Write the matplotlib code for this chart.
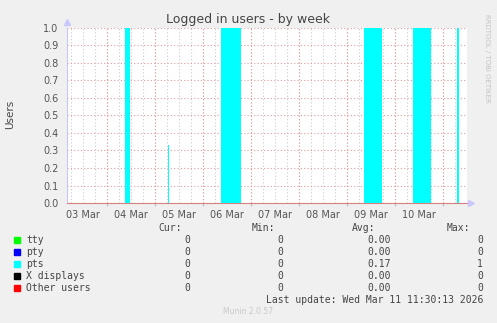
import matplotlib
matplotlib.use("Agg")
import matplotlib.pyplot as plt
import matplotlib.dates as mdates
import matplotlib.ticker as mticker
import pandas as pd

# pts sessions (start, end, users)
pts_start = ["2026-03-04 09:00", "2026-03-05 06:15", "2026-03-06 09:00",
             "2026-03-09 08:30", "2026-03-10 09:00", "2026-03-11 06:50"]
pts_end = ["2026-03-04 11:20", "2026-03-05 07:00", "2026-03-06 19:10",
           "2026-03-09 17:30", "2026-03-10 18:00", "2026-03-11 07:50"]
pts_value = [1.0, 0.33, 1.0, 1.0, 1.0, 1.0]

x_start = "2026-03-03 04:00"
x_end = "2026-03-11 11:50"

# legend table
labels = ["tty", "pty", "pts", "X displays", "Other users"]
colors = ["#00ff00", "#0000ff", "#00ffff", "#000000", "#ff0000"]
cur = [0, 0, 0, 0, 0]
mins = [0, 0, 0, 0, 0]
avgs = [0.00, 0.00, 0.17, 0.00, 0.00]
maxs = [0, 0, 1, 0, 0]

W, H = 497, 323
fig = plt.figure(figsize=(W / 100, H / 100), dpi=100, facecolor="#f0f0f0")
ax = fig.add_axes([67 / W, (H - 203) / H, 400 / W, 175 / H])
ax.set_facecolor("white")

starts = pd.to_datetime(pts_start).to_pydatetime()
ends = pd.to_datetime(pts_end).to_pydatetime()
for s, e, v in zip(starts, ends, pts_value):
    ax.fill_between([s, e], [v, v], 0, color="#00ffff", linewidth=0, zorder=3)

ax.set_xlim(pd.Timestamp(x_start).to_pydatetime(), pd.Timestamp(x_end).to_pydatetime())
ax.set_ylim(0, 1)

# grid
dot = (0, (1, 2))
ax.yaxis.set_major_locator(mticker.MultipleLocator(0.1))
ax.yaxis.set_major_formatter(mticker.FormatStrFormatter("%.1f"))
ax.grid(axis="y", color="#e39c9c", linestyle=dot, linewidth=0.8, zorder=4)
ax.xaxis.set_major_locator(mdates.HourLocator(byhour=12))
ax.xaxis.set_major_formatter(mdates.DateFormatter("%d %b"))
ax.xaxis.set_minor_locator(mdates.HourLocator(byhour=[0, 6, 18]))
ax.grid(axis="x", which="both", color="#cccccc", linestyle=dot, linewidth=0.8, zorder=4)
midnights = pd.date_range("2026-03-04", "2026-03-11", freq="D").to_pydatetime()
ax.vlines(midnights, 0, 1, colors="#e39c9c", linestyles=dot, linewidth=0.8, zorder=4)
ax.vlines(midnights, -0.015, 0, colors="#bbbbbb", linewidth=0.8, clip_on=False)
ax.set_axisbelow(False)

for sp in ["top", "right"]:
    ax.spines[sp].set_visible(False)
ax.spines["left"].set_color("#c8c8f0")
ax.spines["bottom"].set_color("#d98080")
ax.spines["left"].set_zorder(5)
ax.spines["bottom"].set_zorder(5)
ax.tick_params(axis="both", which="both", length=0, labelsize=7, colors="#555555")
ax.tick_params(axis="x", pad=5)
ax.tick_params(axis="y", pad=6)

# axis arrows
ax.plot([0], [1.035], marker="^", color="#c8c8ff", markersize=5,
        transform=ax.transAxes, clip_on=False)
ax.plot([1.01], [0], marker=">", color="#c8c8ff", markersize=5,
        transform=ax.transAxes, clip_on=False)

fig.text(248 / W, 1 - 19 / H, "Logged in users - by week", ha="center", va="center",
         fontsize=9, color="#444444")
fig.text(10 / W, 1 - 114 / H, "Users", rotation=90, ha="center", va="center",
         fontsize=7.5, color="#444444")
fig.text(487 / W, 1 - 58 / H, "RRDTOOL / TOBI OETIKER", rotation=270, ha="center",
         va="center", fontsize=5, color="#c4c4c4")

mono = "DejaVu Sans Mono"
txt = "#444444"
def put(x, y, s, ha="left", color=txt, size=7):
    fig.text(x / W, 1 - y / H, s, ha=ha, va="center", fontsize=size,
             family=mono, color=color)

put(182, 228, "Cur:", ha="right")
put(275, 228, "Min:", ha="right")
put(375, 228, "Avg:", ha="right")
put(470, 228, "Max:", ha="right")
for i, lab in enumerate(labels):
    y = 240 + i * 12
    fig.patches.append(plt.Rectangle((14 / W, 1 - (y + 3) / H), 6 / W, 6 / H,
                                     transform=fig.transFigure, color=colors[i]))
    put(26, y, lab)
    put(190, y, "%d" % cur[i], ha="right")
    put(283, y, "%d" % mins[i], ha="right")
    put(391, y, "%.2f" % avgs[i], ha="right")
    put(483, y, "%d" % maxs[i], ha="right")
put(483, 300, "Last update: Wed Mar 11 11:30:13 2026", ha="right")
fig.text(248 / W, 1 - 312 / H, "Munin 2.0.57", ha="center", va="center",
         fontsize=5.5, color="#c8c8c8")

fig.savefig("out.png", dpi=100, facecolor=fig.get_facecolor())
